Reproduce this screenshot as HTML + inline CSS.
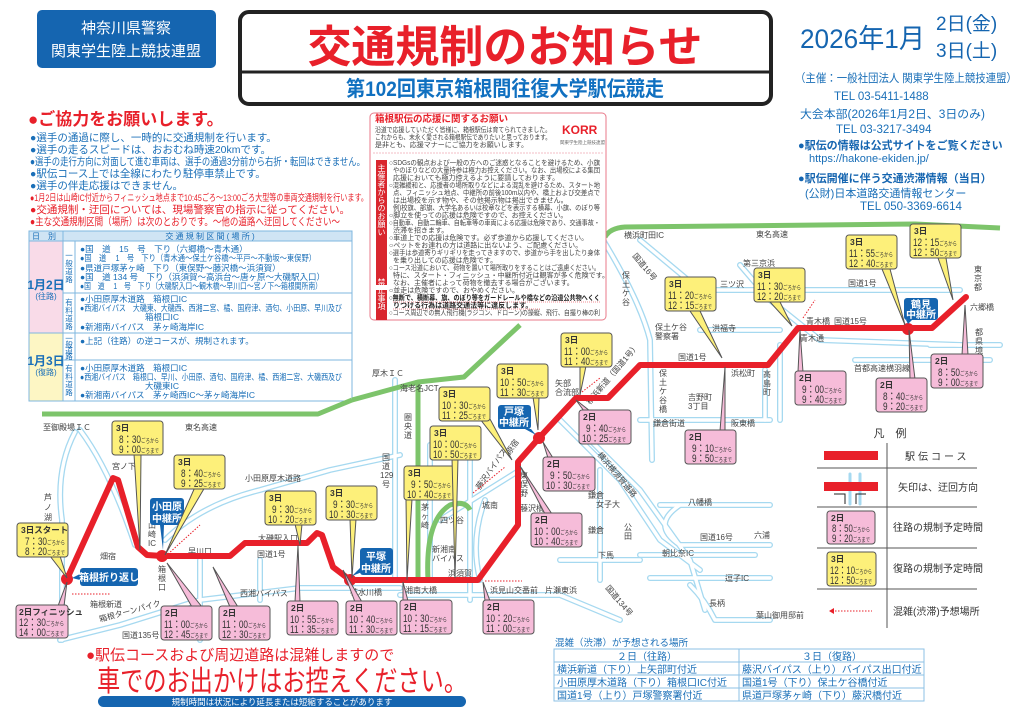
<!DOCTYPE html>
<html><head><meta charset="utf-8"><style>
html,body{margin:0;padding:0;background:#fff;}
svg{display:block;font-family:"Liberation Sans","Noto Sans CJK JP",sans-serif;}
.r{fill:none;stroke:#a6d9f0;stroke-width:6;stroke-linejoin:round;stroke-linecap:round}
.ri{fill:none;stroke:#fff;stroke-width:3.4;stroke-linejoin:round;stroke-linecap:round}
.lb{font-size:8px;fill:#444}
.y{fill:#fdf07a;stroke:#555;stroke-width:1}
.p{fill:#f6bcd9;stroke:#555;stroke-width:1}
.cd{font-size:8.5px;font-weight:bold;fill:#333}
.ct{font-size:11px;fill:#333}
.cs{font-size:6px}
.bl{font-size:10.5px;fill:#1a6fb8}
.rd{fill:#e8202a}
.tb{font-size:8.5px;fill:#1a6fb8}
.nt{font-size:7px;fill:#444}
</style></head><body>
<svg width="1024" height="723" viewBox="0 0 1024 723" xmlns="http://www.w3.org/2000/svg">
<rect width="1024" height="723" fill="#fff"/>

<!-- header -->
<rect x="37" y="10" width="179" height="58" rx="5" fill="#1565b0"/>
<text x="126" y="33" font-size="15" fill="#fff" text-anchor="middle">神奈川県警察</text>
<text x="126" y="56" font-size="15" fill="#fff" text-anchor="middle">関東学生陸上競技連盟</text>

<rect x="240" y="12" width="531" height="92" rx="9" fill="#fff" stroke="#222" stroke-width="4"/>
<line x1="240" y1="72" x2="771" y2="72" stroke="#222" stroke-width="3"/>
<text x="505" y="62" font-size="44" font-weight="bold" fill="#e8202a" text-anchor="middle">交通規制のお知らせ</text>
<text x="505" y="96" font-size="21" font-weight="bold" fill="#1070c0" text-anchor="middle" textLength="318" lengthAdjust="spacingAndGlyphs">第102回東京箱根間往復大学駅伝競走</text>

<text x="800" y="48" font-size="27" fill="#1565b0" textLength="125" lengthAdjust="spacingAndGlyphs">2026年1月</text>
<text x="936" y="30" font-size="19" fill="#1565b0">2日(金)</text>
<text x="936" y="57" font-size="19" fill="#1565b0">3日(土)</text>
<text x="795" y="82" font-size="11.5" fill="#1a6fb8" textLength="222" lengthAdjust="spacingAndGlyphs">（主催：一般社団法人 関東学生陸上競技連盟）</text>
<text x="834" y="100" font-size="11.5" fill="#1a6fb8">TEL 03-5411-1488</text>
<text x="800" y="118" font-size="11.5" fill="#1a6fb8" textLength="185" lengthAdjust="spacingAndGlyphs">大会本部(2026年1月2日、3日のみ)</text>
<text x="836" y="133" font-size="11.5" fill="#1a6fb8">TEL 03-3217-3494</text>
<text x="798" y="149" font-size="11" font-weight="bold" fill="#1565b0">●駅伝の情報は公式サイトをご覧ください</text>
<text x="809" y="162" font-size="11" fill="#1a6fb8">https://hakone-ekiden.jp/</text>
<text x="798" y="182" font-size="11" font-weight="bold" fill="#1565b0">●駅伝開催に伴う交通渋滞情報（当日）</text>
<text x="805" y="197" font-size="11" fill="#1a6fb8">(公財)日本道路交通情報センター</text>
<text x="860" y="210" font-size="11.5" fill="#1a6fb8">TEL 050-3369-6614</text>

<!-- cooperation -->
<text x="28" y="125" font-size="17" font-weight="bold" fill="#e8202a">●ご協力をお願いします。</text>
<text x="30" y="141" class="bl">●選手の通過に際し、一時的に交通規制を行います。</text>
<text x="30" y="153" class="bl">●選手の走るスピードは、おおむね時速20kmです。</text>
<text x="30" y="165" class="bl" textLength="335" lengthAdjust="spacingAndGlyphs">●選手の走行方向に対面して進む車両は、選手の通過3分前から右折・転回はできません。</text>
<text x="30" y="177" class="bl">●駅伝コース上では全線にわたり駐停車禁止です。</text>
<text x="30" y="189" class="bl">●選手の伴走応援はできません。</text>
<text x="30" y="201" font-size="9.5" class="rd" textLength="338" lengthAdjust="spacingAndGlyphs">●1月2日は山崎IC付近からフィニッシュ地点まで10:45ごろ～13:00ごろ大型等の車両交通規制を行います。</text>
<text x="30" y="213" font-size="10.5" class="rd">●交通規制・迂回については、現場警察官の指示に従ってください。</text>
<text x="30" y="225" font-size="10.5" class="rd" textLength="310" lengthAdjust="spacingAndGlyphs">●主な交通規制区間（場所）は次のとおりです。～他の道路へ迂回してください～</text>

<!-- table -->
<rect x="29" y="231" width="323" height="10" fill="#cfe4f4"/>
<rect x="29" y="241" width="34" height="92" fill="#f9dbe8"/>
<rect x="29" y="333" width="34" height="68" fill="#fdf6c4"/>
<g stroke="#7fb7df" stroke-width="1" fill="none">
<rect x="29" y="231" width="323" height="170"/>
<line x1="29" y1="241" x2="352" y2="241"/>
<line x1="29" y1="333" x2="352" y2="333"/>
<line x1="63" y1="231" x2="63" y2="401"/>
<line x1="75" y1="241" x2="75" y2="401"/>
<line x1="63" y1="293" x2="352" y2="293"/>
<line x1="63" y1="360" x2="352" y2="360"/>
</g>
<text x="32" y="239" font-size="8" fill="#1a6fb8">日　別</text>
<text x="210" y="239" font-size="8" fill="#1a6fb8" text-anchor="middle">交 通 規 制 区 間 ( 場 所 )</text>
<text x="46" y="289" font-size="12" font-weight="bold" fill="#1a6fb8" text-anchor="middle">1月2日</text>
<text x="46" y="299" font-size="8" fill="#1a6fb8" text-anchor="middle">(往路)</text>
<text x="46" y="365" font-size="12" font-weight="bold" fill="#1a6fb8" text-anchor="middle">1月3日</text>
<text x="46" y="375" font-size="8" fill="#1a6fb8" text-anchor="middle">(復路)</text>
<g font-size="7.5" fill="#1a6fb8" text-anchor="middle">
<text x="69" y="258">一</text><text x="69" y="266">般</text><text x="69" y="274">道</text><text x="69" y="282">路</text>
<text x="69" y="305">有</text><text x="69" y="313">料</text><text x="69" y="321">道</text><text x="69" y="329">路</text>
<text x="69" y="341">一</text><text x="69" y="347">般</text><text x="69" y="353">道</text><text x="69" y="359">路</text>
<text x="69" y="371">有</text><text x="69" y="379">料</text><text x="69" y="387">道</text><text x="69" y="395">路</text>
</g>
<text x="80" y="252" class="tb">●国　道　15　号　下り（六郷橋～青木通）</text>
<text x="80" y="261" class="tb" textLength="236" lengthAdjust="spacingAndGlyphs">●国　道　 1　号　下り（青木通～保土ケ谷橋～平戸～不動坂～東俣野）</text>
<text x="80" y="271" class="tb">●県道戸塚茅ヶ崎　下り（東俣野～藤沢橋～浜須賀）</text>
<text x="80" y="280" class="tb">●国　道 134 号　下り（浜須賀～高浜台～唐ヶ原～大磯駅入口）</text>
<text x="80" y="289" class="tb" textLength="242" lengthAdjust="spacingAndGlyphs">●国　道　 1　号　下り（大磯駅入口～観木橋～早川口～宮ノ下～箱根関所南）</text>
<text x="80" y="302" class="tb">●小田原厚木道路　箱根口IC</text>
<text x="80" y="311" class="tb" textLength="262" lengthAdjust="spacingAndGlyphs">●西湘バイパス　大磯東、大磯西、西湘二宮、橘、国府津、酒匂、小田原、早川及び</text>
<text x="145" y="320" class="tb">箱根口IC</text>
<text x="80" y="330" class="tb">●新湘南バイパス　茅ヶ崎海岸IC</text>
<text x="80" y="344" class="tb">●上記（往路）の逆コースが、規制されます。</text>
<text x="80" y="371" class="tb">●小田原厚木道路　箱根口IC</text>
<text x="80" y="380" class="tb" textLength="262" lengthAdjust="spacingAndGlyphs">●西湘バイパス　箱根口、早川、小田原、酒匂、国府津、橘、西湘二宮、大磯西及び</text>
<text x="145" y="389" class="tb">大磯東IC</text>
<text x="80" y="398" class="tb">●新湘南バイパス　茅ヶ崎西IC～茅ヶ崎海岸IC</text>

<!-- roads (light blue) -->
<g>
<path class="r" d="M75 432 Q55 470 62 520 L62 640"/>
<path class="r" d="M80 430 Q110 470 135 545"/>
<path class="r" d="M60 640 L120 625 L200 600 L300 588 L400 588"/>
<path class="r" d="M165 540 Q200 505 260 490 L330 470 L400 455"/>
<path class="r" d="M200 560 L200 640"/>
<path class="r" d="M260 560 L260 600"/>
<path class="r" d="M395 380 L395 580"/>
<path class="r" d="M430 445 L430 580"/>
<path class="r" d="M470 430 L470 600"/>
<path class="r" d="M485 500 Q470 540 480 580"/>
<path class="r" d="M400 595 L560 595 L620 620"/>
<path class="r" d="M600 235 Q640 300 650 340 L652 460"/>
<path class="r" d="M640 240 L700 290"/>
<path class="r" d="M700 290 L960 290"/>
<path class="r" d="M740 265 L770 300 L820 340 L960 345"/>
<path class="r" d="M700 330 L780 330"/>
<path class="r" d="M560 420 L620 480 L660 540 L700 570"/>
<path class="r" d="M590 440 L640 490 L690 560 L705 610"/>
<path class="r" d="M640 420 L770 420"/>
<path class="r" d="M660 505 L770 505"/>
<path class="r" d="M680 505 Q650 525 680 545 L770 545"/>
<path class="r" d="M640 555 L755 555"/>
<path class="r" d="M650 578 L770 578"/>
<path class="r" d="M690 585 Q705 600 715 620 L770 620"/>
<path class="r" d="M600 470 L600 580"/>
<path class="r" d="M560 560 L640 560"/>
<path class="r" d="M780 345 L780 420"/>
<path class="r" d="M930 345 L1000 345"/>
<path class="r" d="M855 360 L990 360"/>
<path class="r" d="M765 370 L765 420"/>
<path class="r" d="M520 470 L440 520"/>
<path class="ri" d="M75 432 Q55 470 62 520 L62 640"/>
<path class="ri" d="M80 430 Q110 470 135 545"/>
<path class="ri" d="M60 640 L120 625 L200 600 L300 588 L400 588"/>
<path class="ri" d="M165 540 Q200 505 260 490 L330 470 L400 455"/>
<path class="ri" d="M200 560 L200 640"/>
<path class="ri" d="M260 560 L260 600"/>
<path class="ri" d="M395 380 L395 580"/>
<path class="ri" d="M430 445 L430 580"/>
<path class="ri" d="M470 430 L470 600"/>
<path class="ri" d="M485 500 Q470 540 480 580"/>
<path class="ri" d="M400 595 L560 595 L620 620"/>
<path class="ri" d="M600 235 Q640 300 650 340 L652 460"/>
<path class="ri" d="M640 240 L700 290"/>
<path class="ri" d="M700 290 L960 290"/>
<path class="ri" d="M740 265 L770 300 L820 340 L960 345"/>
<path class="ri" d="M700 330 L780 330"/>
<path class="ri" d="M560 420 L620 480 L660 540 L700 570"/>
<path class="ri" d="M590 440 L640 490 L690 560 L705 610"/>
<path class="ri" d="M640 420 L770 420"/>
<path class="ri" d="M660 505 L770 505"/>
<path class="ri" d="M680 505 Q650 525 680 545 L770 545"/>
<path class="ri" d="M640 555 L755 555"/>
<path class="ri" d="M650 578 L770 578"/>
<path class="ri" d="M690 585 Q705 600 715 620 L770 620"/>
<path class="ri" d="M600 470 L600 580"/>
<path class="ri" d="M560 560 L640 560"/>
<path class="ri" d="M780 345 L780 420"/>
<path class="ri" d="M930 345 L1000 345"/>
<path class="ri" d="M855 360 L990 360"/>
<path class="ri" d="M765 370 L765 420"/>
<path class="ri" d="M520 470 L440 520"/>
</g>

<!-- green expressways -->
<g fill="none" stroke="#7dc46b" stroke-width="5" stroke-linejoin="round">
<path d="M42 414 L318 414 L352 400"/>
<path d="M352 400 L418 382 L464 377 L520 325"/>
<path d="M418 380 L418 582"/>
<path d="M605 237 Q610 228 625 227 L915 224 L1000 228"/>
<path d="M428 580 Q425 520 450 505 Q465 500 470 510"/>
</g>

<!-- notice box -->
<rect x="370" y="113" width="236" height="207" rx="4" fill="#fff" stroke="#e87a8a" stroke-width="1"/>
<text x="375" y="122" font-size="9.5" font-weight="bold" fill="#e8202a">箱根駅伝の応援に関するお願い</text>
<text x="375" y="132" class="nt" textLength="176" lengthAdjust="spacingAndGlyphs">沿道で応援していただく皆様に、箱根駅伝は育てられてきました。</text>
<text x="375" y="139.5" class="nt" textLength="176" lengthAdjust="spacingAndGlyphs">これからも、末永く愛される箱根駅伝でありたいと思っております。</text>
<text x="375" y="147" class="nt">是非とも、応援マナーにご協力をお願いします。</text>
<text x="562" y="134" font-size="12" font-weight="bold" fill="#e8202a">KORR</text>
<text x="560" y="144" font-size="4.5" fill="#666">関東学生陸上競技連盟</text>
<line x1="373" y1="153" x2="603" y2="153" stroke="#e87a8a" stroke-width="0.6" stroke-dasharray="2,1"/>
<rect x="376" y="160" width="11" height="125" fill="#d9262e"/>
<rect x="376" y="290" width="11" height="30" fill="#d9262e"/>
<text x="381.5" y="200" font-size="8" fill="#fff" text-anchor="middle" writing-mode="tb">主催者からのお願い</text>
<text x="381.5" y="294" font-size="8" fill="#fff" text-anchor="middle" writing-mode="tb">禁止事項</text>
<g class="nt">
<text x="389" y="165" textLength="211" lengthAdjust="spacingAndGlyphs">○SDGsの観点および一般の方へのご迷惑となることを避けるため、小旗</text>
<text x="393" y="172.5" textLength="207" lengthAdjust="spacingAndGlyphs">やのぼりなどの大量持参は極力お控えください。なお、出場校による集団</text>
<text x="393" y="180">応援においても極力控えるように要請しております。</text>
<text x="389" y="187.5" textLength="211" lengthAdjust="spacingAndGlyphs">○混雑緩和と、応援者の場所取りなどによる混乱を避けるため、スタート地</text>
<text x="393" y="195" textLength="207" lengthAdjust="spacingAndGlyphs">点、フィニッシュ地点、中継所の前後100m以内や、橋上および交差点で</text>
<text x="393" y="202.5">は出場校を示す物や、その他掲示物は掲出できません。</text>
<text x="393" y="210" textLength="207" lengthAdjust="spacingAndGlyphs">例)校旗、部旗、大学名あるいは校章などを表示する横幕、小旗、のぼり等</text>
<text x="389" y="217.5">○脚立を使っての応援は危険ですので、お控えください。</text>
<text x="389" y="225" textLength="211" lengthAdjust="spacingAndGlyphs">○自動車、自動二輪車、自転車等の車両による応援は危険であり、交通事故・</text>
<text x="393" y="232.5">渋滞を招きます。</text>
<text x="389" y="240">○車道上での応援は危険です。必ず歩道から応援してください。</text>
<text x="389" y="247.5">○ペットをお連れの方は道路に出ないよう、ご配慮ください。</text>
<text x="389" y="255" textLength="211" lengthAdjust="spacingAndGlyphs">○選手は歩道寄りギリギリを走ってきますので、歩道から手を出したり身体</text>
<text x="393" y="262.5">を乗り出しての応援は危険です。</text>
<text x="389" y="270" textLength="211" lengthAdjust="spacingAndGlyphs">○コース沿道において、荷物を置いて場所取りをすることはご遠慮ください。</text>
<text x="393" y="277.5">特に、スタート・フィニッシュ・中継所付近は観客が多く危険です。</text>
<text x="393" y="285">なお、主催者によって荷物を撤去する場合がございます。</text>
<text x="389" y="292.5">○並走は危険ですので、おやめください。</text>
<text x="389" y="300" font-weight="bold" fill="#222" textLength="211" lengthAdjust="spacingAndGlyphs">○無断で、横断幕、旗、のぼり等をガードレールや橋などの沿道公共物へくく</text>
<text x="393" y="307.5" font-weight="bold" fill="#222">りつける行為は道路交通法等に違反します。</text>
<text x="389" y="315" textLength="211" lengthAdjust="spacingAndGlyphs">○コース周辺での無人飛行機(ラジコン、ドローン)の操縦、飛行、自撮り棒の利</text>
</g>
<line x1="393" y1="302" x2="600" y2="302" stroke="#e8202a" stroke-width="0.6" stroke-dasharray="1,1"/>
<line x1="393" y1="309" x2="540" y2="309" stroke="#e8202a" stroke-width="0.6" stroke-dasharray="1,1"/>

<!-- map labels -->
<g class="lb">
<text x="43" y="430">至御殿場ＩＣ</text>
<text x="185" y="430">東名高速</text>
<text x="112" y="469">宮ノ下</text>
<text x="245" y="481">小田原厚木道路</text>
<text x="44" y="500">芦</text><text x="44" y="510">ノ</text><text x="44" y="520">湖</text>
<text x="100" y="559">畑宿</text>
<text x="188" y="554">早川口</text>
<text x="258" y="541">大磯駅入口</text>
<text x="257" y="557">国道1号</text>
<text x="240" y="596">西湘バイパス</text>
<text x="90" y="607">箱根新道</text>
<text x="100" y="622" transform="rotate(-15 100 622)">箱根ターンパイク</text>
<text x="122" y="638">国道135号</text>
<text x="350" y="595">花水川橋</text>
<text x="148" y="528">山</text><text x="148" y="537">崎</text><text x="148" y="546">IC</text>
<text x="158" y="572">箱</text><text x="158" y="581">根</text><text x="158" y="590">口</text>
<text x="372" y="376">厚木ＩＣ</text>
<text x="400" y="391">海老名JCT</text>
<text x="404" y="420">圏</text><text x="404" y="429">央</text><text x="404" y="438">道</text>
<text x="382" y="460">国</text><text x="382" y="469">道</text><text x="380" y="478">129</text><text x="382" y="487">号</text>
<text x="328" y="510">大磯</text>
<text x="440" y="523">四ツ谷</text>
<text x="421" y="510">茅</text><text x="421" y="519">ヶ</text><text x="421" y="528">崎</text>
<text x="432" y="552">新湘南</text><text x="432" y="561">バイパス</text>
<text x="448" y="576">浜須賀</text>
<text x="405" y="593">湘南大橋</text>
<text x="490" y="593">浜見山交番前</text>
<text x="545" y="593">片瀬東浜</text>
<text x="605" y="588" transform="rotate(50 605 588)">国道134号</text>
<text x="482" y="508">城南</text>
<text x="480" y="490" transform="rotate(-55 480 490)">藤沢バイパス</text>
<text x="520" y="478">東</text><text x="520" y="487">俣</text><text x="520" y="496">野</text>
<text x="520" y="511">藤沢橋</text>
<text x="510" y="455" transform="rotate(-55 510 455)">原宿</text>
<text x="555" y="386">矢部</text><text x="555" y="395">合流部</text>
<text x="590" y="405" transform="rotate(-50 590 405)">横浜新道（国道1号）</text>
<text x="597" y="455" transform="rotate(50 597 455)">横浜横須賀道路</text>
<text x="588" y="498">鎌倉</text><text x="596" y="507">女子大</text>
<text x="588" y="533">鎌倉</text>
<text x="624" y="530">公</text><text x="624" y="539">田</text>
<text x="598" y="558">下馬</text>
<text x="624" y="238">横浜町田IC</text>
<text x="756" y="237">東名高速</text>
<text x="632" y="256" transform="rotate(50 632 256)">国道16号</text>
<text x="622" y="278">保</text><text x="622" y="287">土</text><text x="622" y="296">ケ</text><text x="622" y="305">谷</text>
<text x="743" y="266">第三京浜</text>
<text x="720" y="287">三ツ沢</text>
<text x="848" y="286">国道1号</text>
<text x="655" y="330">保土ケ谷</text><text x="655" y="339">警察署</text>
<text x="712" y="331">洪福寺</text>
<text x="806" y="324">青木橋</text>
<text x="834" y="324">国道15号</text>
<text x="800" y="341">青木通</text>
<text x="678" y="360">国道1号</text>
<text x="731" y="376">浜松町</text>
<text x="763" y="377">高</text><text x="763" y="386">島</text><text x="763" y="395">町</text>
<text x="854" y="371">首都高速横羽線</text>
<text x="970" y="310">六郷橋</text>
<text x="974" y="272">東</text><text x="974" y="281">京</text><text x="974" y="290">都</text>
<text x="975" y="335">都</text><text x="975" y="344">県</text><text x="975" y="353">境</text>
<text x="659" y="376">保</text><text x="659" y="385">土</text><text x="659" y="394">ケ</text><text x="659" y="403">谷</text><text x="659" y="412">橋</text>
<text x="688" y="400">吉野町</text><text x="688" y="409">3丁目</text>
<text x="653" y="426">鎌倉街道</text>
<text x="731" y="426">阪東橋</text>
<text x="688" y="505">八幡橋</text>
<text x="700" y="540">国道16号</text>
<text x="754" y="538">六浦</text>
<text x="662" y="556">朝比奈IC</text>
<text x="725" y="581">逗子IC</text>
<text x="709" y="606">長柄</text>
<text x="756" y="618">葉山御用邸前</text>
</g>

<!-- congestion arrows -->
<g stroke="#e8202a" stroke-width="1" stroke-dasharray="1.5,1.5" fill="none">
<line x1="72" y1="594" x2="110" y2="594"/>
<line x1="168" y1="554" x2="200" y2="525"/>
<line x1="485" y1="581" x2="522" y2="581"/>
<line x1="473" y1="493" x2="505" y2="467"/>
<line x1="582" y1="392" x2="600" y2="378"/>
<line x1="803" y1="318" x2="815" y2="300"/>
</g>

<!-- course -->
<polyline fill="none" stroke="#e8202a" stroke-width="6" stroke-linejoin="round" stroke-linecap="round"
 points="67,579 113,478 118,480 138,547 147,555 162,556 230,556 245,543 307,543 317,533 322,535 333,567 350,580 478,580 518,525 518,462 539,438 576,398 608,398 640,365 768,365 798,328 932,328 966,297"/>
<g fill="#e8202a"><circle cx="67" cy="579" r="6"/><circle cx="162" cy="556" r="6"/><circle cx="350" cy="580" r="6"/><circle cx="539" cy="438" r="6"/><circle cx="908" cy="329" r="6"/></g>

<!-- relay badges -->
<g fill="#1565b0">
<rect x="80" y="568" width="58" height="18" rx="3"/><polygon points="80,574 72,578 80,580"/>
<rect x="150" y="498" width="34" height="27" rx="3"/><polygon points="160,525 164,525 163,550"/>
<rect x="360" y="548" width="33" height="27" rx="3"/><polygon points="360,568 352,576 362,572"/>
<rect x="498" y="405" width="33" height="24" rx="3"/><polygon points="525,429 531,429 536,435"/>
<rect x="904" y="298" width="34" height="22" rx="3"/><polygon points="906,320 912,320 908,324"/>
</g>
<g fill="#fff" font-size="10" font-weight="bold" text-anchor="middle">
<text x="109" y="581">箱根折り返し</text>
<text x="167" y="510">小田原</text><text x="167" y="522">中継所</text>
<text x="376" y="560">平塚</text><text x="376" y="572">中継所</text>
<text x="514" y="415">戸塚</text><text x="514" y="426">中継所</text>
<text x="921" y="308">鶴見</text><text x="921" y="318">中継所</text>
</g>

<!-- callouts: yellow (day 3) -->
<g>
<polygon class="y" points="50,556 60,556 67,578"/><rect class="y" x="17" y="523" width="51" height="34" rx="3"/>
<polygon class="y" points="134,454 141,454 140,550"/><rect class="y" x="112" y="421" width="51" height="34" rx="3"/>
<polygon class="y" points="195,487 205,487 165,555"/><rect class="y" x="174" y="455" width="51" height="34" rx="3"/>
<polygon class="y" points="295,524 302,524 300,545"/><rect class="y" x="265" y="491" width="51" height="34" rx="3"/>
<polygon class="y" points="350,519 356,519 352,578"/><rect class="y" x="326" y="486" width="51" height="34" rx="3"/>
<polygon class="y" points="406,499 412,499 407,580"/><rect class="y" x="404" y="466" width="51" height="34" rx="3"/>
<polygon class="y" points="452,458 458,458 455,578"/><rect class="y" x="430" y="426" width="51" height="34" rx="3"/>
<polygon class="y" points="480,419 490,419 512,460"/><rect class="y" x="439" y="387" width="51" height="34" rx="3"/>
<polygon class="y" points="533,397 539,397 538,430"/><rect class="y" x="497" y="364" width="51" height="34" rx="3"/>
<polygon class="y" points="580,366 586,366 580,395"/><rect class="y" x="561" y="333" width="51" height="34" rx="3"/>
<polygon class="y" points="690,311 700,311 722,358"/><rect class="y" x="665" y="277" width="51" height="34" rx="3"/>
<polygon class="y" points="770,302 780,302 792,326"/><rect class="y" x="754" y="268" width="51" height="34" rx="3"/>
<polygon class="y" points="882,269 890,269 905,325"/><rect class="y" x="846" y="235" width="51" height="34" rx="3"/>
<polygon class="y" points="938,258 946,258 953,300"/><rect class="y" x="910" y="224" width="51" height="34" rx="3"/>
</g>
<!-- callouts: pink (day 2) -->
<g>
<polygon class="p" points="58,606 64,606 67,582"/><rect class="p" x="16" y="605" width="52" height="33" rx="3"/>
<polygon class="p" points="192,607 202,607 167,563"/><rect class="p" x="161" y="606" width="51" height="34" rx="3"/>
<polygon class="p" points="230,607 238,607 213,567"/><rect class="p" x="219" y="606" width="51" height="34" rx="3"/>
<polygon class="p" points="295,602 300,602 298,545"/><rect class="p" x="287" y="601" width="51" height="34" rx="3"/>
<polygon class="p" points="355,602 362,602 343,570"/><rect class="p" x="346" y="601" width="51" height="34" rx="3"/>
<polygon class="p" points="403,601 408,601 403,582"/><rect class="p" x="400" y="600" width="52" height="34" rx="3"/>
<polygon class="p" points="485,601 490,601 483,582"/><rect class="p" x="483" y="600" width="51" height="34" rx="3"/>
<polygon class="p" points="545,514 552,514 520,466"/><rect class="p" x="531" y="513" width="51" height="34" rx="3"/>
<polygon class="p" points="548,458 553,458 543,442"/><rect class="p" x="543" y="457" width="52" height="34" rx="3"/>
<polygon class="p" points="584,411 590,411 576,400"/><rect class="p" x="579" y="410" width="52" height="34" rx="3"/>
<polygon class="p" points="720,431 725,431 725,367"/><rect class="p" x="685" y="430" width="51" height="34" rx="3"/>
<polygon class="p" points="798,372 803,372 800,330"/><rect class="p" x="795" y="371" width="51" height="34" rx="3"/>
<polygon class="p" points="910,379 915,379 909,330"/><rect class="p" x="876" y="378" width="51" height="34" rx="3"/>
<polygon class="p" points="962,355 968,355 965,305"/><rect class="p" x="931" y="354" width="52" height="34" rx="3"/>
</g>
<!-- callout texts -->
<g>
<text x="21" y="533" class="cd">3日スタート</text>
<text x="25" y="545" class="ct" textLength="40" lengthAdjust="spacingAndGlyphs">7：30<tspan class="cs">ごろから</tspan></text>
<text x="25" y="555" class="ct" textLength="40" lengthAdjust="spacingAndGlyphs">8：20<tspan class="cs">ごろまで</tspan></text>

<text x="116" y="431" class="cd">3日</text>
<text x="119" y="443" class="ct" textLength="40" lengthAdjust="spacingAndGlyphs">8：30<tspan class="cs">ごろから</tspan></text>
<text x="119" y="453" class="ct" textLength="40" lengthAdjust="spacingAndGlyphs">9：00<tspan class="cs">ごろまで</tspan></text>

<text x="178" y="465" class="cd">3日</text>
<text x="181" y="477" class="ct" textLength="40" lengthAdjust="spacingAndGlyphs">8：40<tspan class="cs">ごろから</tspan></text>
<text x="181" y="487" class="ct" textLength="40" lengthAdjust="spacingAndGlyphs">9：25<tspan class="cs">ごろまで</tspan></text>

<text x="269" y="501" class="cd">3日</text>
<text x="272" y="513" class="ct" textLength="40" lengthAdjust="spacingAndGlyphs">9：30<tspan class="cs">ごろから</tspan></text>
<text x="268" y="523" class="ct" textLength="44" lengthAdjust="spacingAndGlyphs">10：20<tspan class="cs">ごろまで</tspan></text>

<text x="330" y="496" class="cd">3日</text>
<text x="333" y="508" class="ct" textLength="40" lengthAdjust="spacingAndGlyphs">9：30<tspan class="cs">ごろから</tspan></text>
<text x="329" y="518" class="ct" textLength="44" lengthAdjust="spacingAndGlyphs">10：30<tspan class="cs">ごろまで</tspan></text>

<text x="408" y="476" class="cd">3日</text>
<text x="411" y="488" class="ct" textLength="40" lengthAdjust="spacingAndGlyphs">9：50<tspan class="cs">ごろから</tspan></text>
<text x="407" y="498" class="ct" textLength="44" lengthAdjust="spacingAndGlyphs">10：40<tspan class="cs">ごろまで</tspan></text>

<text x="434" y="436" class="cd">3日</text>
<text x="433" y="448" class="ct" textLength="44" lengthAdjust="spacingAndGlyphs">10：00<tspan class="cs">ごろから</tspan></text>
<text x="433" y="458" class="ct" textLength="44" lengthAdjust="spacingAndGlyphs">10：50<tspan class="cs">ごろまで</tspan></text>

<text x="443" y="397" class="cd">3日</text>
<text x="442" y="409" class="ct" textLength="44" lengthAdjust="spacingAndGlyphs">10：30<tspan class="cs">ごろから</tspan></text>
<text x="442" y="419" class="ct" textLength="44" lengthAdjust="spacingAndGlyphs">11：25<tspan class="cs">ごろまで</tspan></text>

<text x="501" y="374" class="cd">3日</text>
<text x="500" y="386" class="ct" textLength="44" lengthAdjust="spacingAndGlyphs">10：50<tspan class="cs">ごろから</tspan></text>
<text x="500" y="396" class="ct" textLength="44" lengthAdjust="spacingAndGlyphs">11：30<tspan class="cs">ごろまで</tspan></text>

<text x="565" y="343" class="cd">3日</text>
<text x="564" y="355" class="ct" textLength="44" lengthAdjust="spacingAndGlyphs">11：00<tspan class="cs">ごろから</tspan></text>
<text x="564" y="365" class="ct" textLength="44" lengthAdjust="spacingAndGlyphs">11：40<tspan class="cs">ごろまで</tspan></text>

<text x="669" y="287" class="cd">3日</text>
<text x="668" y="299" class="ct" textLength="44" lengthAdjust="spacingAndGlyphs">11：20<tspan class="cs">ごろから</tspan></text>
<text x="668" y="309" class="ct" textLength="44" lengthAdjust="spacingAndGlyphs">12：15<tspan class="cs">ごろまで</tspan></text>

<text x="758" y="278" class="cd">3日</text>
<text x="757" y="290" class="ct" textLength="44" lengthAdjust="spacingAndGlyphs">11：30<tspan class="cs">ごろから</tspan></text>
<text x="757" y="300" class="ct" textLength="44" lengthAdjust="spacingAndGlyphs">12：20<tspan class="cs">ごろまで</tspan></text>

<text x="850" y="245" class="cd">3日</text>
<text x="849" y="257" class="ct" textLength="44" lengthAdjust="spacingAndGlyphs">11：55<tspan class="cs">ごろから</tspan></text>
<text x="849" y="267" class="ct" textLength="44" lengthAdjust="spacingAndGlyphs">12：40<tspan class="cs">ごろまで</tspan></text>

<text x="914" y="234" class="cd">3日</text>
<text x="913" y="246" class="ct" textLength="44" lengthAdjust="spacingAndGlyphs">12：15<tspan class="cs">ごろから</tspan></text>
<text x="913" y="256" class="ct" textLength="44" lengthAdjust="spacingAndGlyphs">12：50<tspan class="cs">ごろまで</tspan></text>

<text x="19" y="615" class="cd">2日フィニッシュ</text>
<text x="19" y="626" class="ct" textLength="45" lengthAdjust="spacingAndGlyphs">12：30<tspan class="cs">ごろから</tspan></text>
<text x="19" y="636" class="ct" textLength="45" lengthAdjust="spacingAndGlyphs">14：00<tspan class="cs">ごろまで</tspan></text>

<text x="165" y="616" class="cd">2日</text>
<text x="164" y="628" class="ct" textLength="44" lengthAdjust="spacingAndGlyphs">11：00<tspan class="cs">ごろから</tspan></text>
<text x="164" y="638" class="ct" textLength="44" lengthAdjust="spacingAndGlyphs">12：45<tspan class="cs">ごろまで</tspan></text>

<text x="223" y="616" class="cd">2日</text>
<text x="222" y="628" class="ct" textLength="44" lengthAdjust="spacingAndGlyphs">11：00<tspan class="cs">ごろから</tspan></text>
<text x="222" y="638" class="ct" textLength="44" lengthAdjust="spacingAndGlyphs">12：30<tspan class="cs">ごろまで</tspan></text>

<text x="291" y="611" class="cd">2日</text>
<text x="290" y="623" class="ct" textLength="44" lengthAdjust="spacingAndGlyphs">10：55<tspan class="cs">ごろから</tspan></text>
<text x="290" y="633" class="ct" textLength="44" lengthAdjust="spacingAndGlyphs">11：35<tspan class="cs">ごろまで</tspan></text>

<text x="350" y="611" class="cd">2日</text>
<text x="349" y="623" class="ct" textLength="44" lengthAdjust="spacingAndGlyphs">10：40<tspan class="cs">ごろから</tspan></text>
<text x="349" y="633" class="ct" textLength="44" lengthAdjust="spacingAndGlyphs">11：30<tspan class="cs">ごろまで</tspan></text>

<text x="404" y="610" class="cd">2日</text>
<text x="403" y="622" class="ct" textLength="44" lengthAdjust="spacingAndGlyphs">10：30<tspan class="cs">ごろから</tspan></text>
<text x="403" y="632" class="ct" textLength="44" lengthAdjust="spacingAndGlyphs">11：15<tspan class="cs">ごろまで</tspan></text>

<text x="487" y="610" class="cd">2日</text>
<text x="486" y="622" class="ct" textLength="44" lengthAdjust="spacingAndGlyphs">10：20<tspan class="cs">ごろから</tspan></text>
<text x="486" y="632" class="ct" textLength="44" lengthAdjust="spacingAndGlyphs">11：00<tspan class="cs">ごろまで</tspan></text>

<text x="535" y="523" class="cd">2日</text>
<text x="534" y="535" class="ct" textLength="44" lengthAdjust="spacingAndGlyphs">10：00<tspan class="cs">ごろから</tspan></text>
<text x="534" y="545" class="ct" textLength="44" lengthAdjust="spacingAndGlyphs">10：40<tspan class="cs">ごろまで</tspan></text>

<text x="547" y="467" class="cd">2日</text>
<text x="550" y="479" class="ct" textLength="40" lengthAdjust="spacingAndGlyphs">9：50<tspan class="cs">ごろから</tspan></text>
<text x="546" y="489" class="ct" textLength="44" lengthAdjust="spacingAndGlyphs">10：30<tspan class="cs">ごろまで</tspan></text>

<text x="583" y="420" class="cd">2日</text>
<text x="586" y="432" class="ct" textLength="40" lengthAdjust="spacingAndGlyphs">9：40<tspan class="cs">ごろから</tspan></text>
<text x="582" y="442" class="ct" textLength="44" lengthAdjust="spacingAndGlyphs">10：25<tspan class="cs">ごろまで</tspan></text>

<text x="689" y="440" class="cd">2日</text>
<text x="692" y="452" class="ct" textLength="40" lengthAdjust="spacingAndGlyphs">9：10<tspan class="cs">ごろから</tspan></text>
<text x="692" y="462" class="ct" textLength="40" lengthAdjust="spacingAndGlyphs">9：50<tspan class="cs">ごろまで</tspan></text>

<text x="799" y="381" class="cd">2日</text>
<text x="802" y="393" class="ct" textLength="40" lengthAdjust="spacingAndGlyphs">9：00<tspan class="cs">ごろから</tspan></text>
<text x="802" y="403" class="ct" textLength="40" lengthAdjust="spacingAndGlyphs">9：40<tspan class="cs">ごろまで</tspan></text>

<text x="880" y="388" class="cd">2日</text>
<text x="883" y="400" class="ct" textLength="40" lengthAdjust="spacingAndGlyphs">8：40<tspan class="cs">ごろから</tspan></text>
<text x="883" y="410" class="ct" textLength="40" lengthAdjust="spacingAndGlyphs">9：20<tspan class="cs">ごろまで</tspan></text>

<text x="935" y="364" class="cd">2日</text>
<text x="938" y="376" class="ct" textLength="40" lengthAdjust="spacingAndGlyphs">8：50<tspan class="cs">ごろから</tspan></text>
<text x="938" y="386" class="ct" textLength="40" lengthAdjust="spacingAndGlyphs">9：00<tspan class="cs">ごろまで</tspan></text>
</g>

<!-- legend -->
<rect x="815" y="424" width="170" height="208" fill="#fff"/>
<text x="890" y="437" font-size="11" fill="#333" text-anchor="middle">凡　例</text>
<g stroke="#555" stroke-width="1">
<line x1="887" y1="443" x2="887" y2="628"/>
<line x1="817" y1="468" x2="977" y2="468"/>
<line x1="817" y1="507" x2="977" y2="507"/>
<line x1="817" y1="548" x2="977" y2="548"/>
<line x1="817" y1="589" x2="977" y2="589"/>
</g>
<rect x="824" y="451" width="54" height="9" fill="#e8202a"/>
<path class="r" d="M850 474 L850 504 M860 474 L860 504" style="stroke-width:3"/>
<rect x="824" y="482" width="54" height="9" fill="#e8202a"/>
<path d="M845 504 L845 494 L834 494 M856 504 L856 494 L866 494" fill="none" stroke="#222" stroke-width="1"/>
<rect class="p" x="827" y="511" width="48" height="33" rx="3"/>
<text x="831" y="521" class="cd">2日</text>
<text x="832" y="532" class="ct" textLength="38" lengthAdjust="spacingAndGlyphs">8：50<tspan class="cs">ごろから</tspan></text>
<text x="832" y="542" class="ct" textLength="38" lengthAdjust="spacingAndGlyphs">9：20<tspan class="cs">ごろまで</tspan></text>
<rect class="y" x="827" y="552" width="49" height="34" rx="3"/>
<text x="831" y="562" class="cd">3日</text>
<text x="830" y="574" class="ct" textLength="42" lengthAdjust="spacingAndGlyphs">12：10<tspan class="cs">ごろから</tspan></text>
<text x="830" y="584" class="ct" textLength="42" lengthAdjust="spacingAndGlyphs">12：50<tspan class="cs">ごろまで</tspan></text>
<line x1="832" y1="611" x2="872" y2="611" stroke="#e8202a" stroke-width="1" stroke-dasharray="1.5,1.5"/>
<polygon points="829,611 834,608 834,614" fill="#e8202a"/>
<g font-size="10" fill="#333">
<text x="905" y="460" letter-spacing="3">駅伝コース</text>
<text x="898" y="491">矢印は、迂回方向</text>
<text x="893" y="531">往路の規制予定時間</text>
<text x="893" y="572">復路の規制予定時間</text>
<text x="893" y="615">混雑(渋滞)予想場所</text>
</g>

<!-- congestion table -->
<text x="555" y="646" font-size="9.5" fill="#1a6fb8">混雑（渋滞）が予想される場所</text>
<g stroke="#8cc2e6" stroke-width="1" fill="none">
<rect x="554" y="649" width="370" height="52"/>
<line x1="554" y1="662" x2="924" y2="662"/>
<line x1="554" y1="675" x2="924" y2="675"/>
<line x1="554" y1="688" x2="924" y2="688"/>
<line x1="739" y1="649" x2="739" y2="701"/>
</g>
<g font-size="10" fill="#1a6fb8">
<text x="647" y="660" text-anchor="middle">２日（往路）</text>
<text x="832" y="660" text-anchor="middle">３日（復路）</text>
<text x="557" y="673">横浜新道（下り）上矢部町付近</text>
<text x="557" y="686">小田原厚木道路（下り）箱根口IC付近</text>
<text x="557" y="699">国道1号（上り）戸塚警察署付近</text>
<text x="742" y="673">藤沢バイパス（上り）バイパス出口付近</text>
<text x="742" y="686">国道1号（下り）保土ケ谷橋付近</text>
<text x="742" y="699">県道戸塚茅ヶ崎（下り）藤沢橋付近</text>
</g>

<!-- bottom message -->
<text x="86" y="660" font-size="15" fill="#e8202a">●駅伝コースおよび周辺道路は混雑しますので</text>
<text x="97" y="691" font-size="29" fill="#e8202a" textLength="370" lengthAdjust="spacingAndGlyphs">車でのお出かけはお控えください。</text>
<rect x="98" y="696" width="368" height="11" rx="5.5" fill="#1565b0"/>
<text x="282" y="705" font-size="8.5" fill="#fff" text-anchor="middle">規制時間は状況により延長または短縮することがあります</text>
</svg>
</body></html>
